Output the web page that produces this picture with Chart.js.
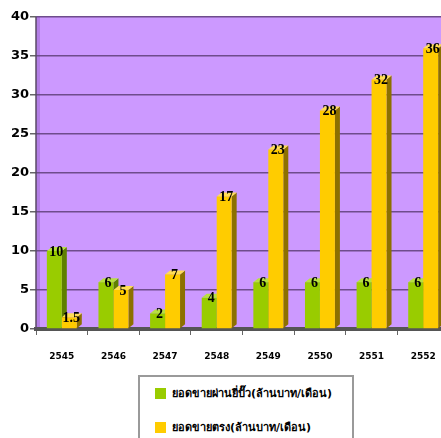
<!DOCTYPE html>
<html>
<head>
<meta charset="utf-8">
<script src="https://cdn.jsdelivr.net/npm/chart.js@4.4.1/dist/chart.umd.min.js"></script>
<style>
  html, body { margin: 0; padding: 0; background: #fff; overflow: hidden; }
  #wrap { position: relative; width: 441px; height: 438px; overflow: hidden; }
  #chart { position: absolute; left: 0; top: 0; }
  #legend {
    position: absolute; left: 138px; top: 375px; width: 216px; height: 80px;
    border: 2px solid #9a9a9a; box-sizing: border-box; background: #fff;
    font-family: Tahoma, "DejaVu Sans", sans-serif; font-weight: bold; font-size: 11px; color: #000;
  }
  .item { position: absolute; left: 15px; white-space: nowrap; line-height: 12px; }
  .sw { display: inline-block; width: 11px; height: 11px; vertical-align: -2px; margin-right: 6px; }
</style>
</head>
<body>
<div id="wrap">
  <canvas id="chart" width="452" height="365"></canvas>
  <div id="legend"></div>
</div>
<script>
(function () {
  'use strict';

  var years = ['2545', '2546', '2547', '2548', '2549', '2550', '2551', '2552'];
  var agentSales = [10, 6, 2, 4, 6, 6, 6, 6];
  var directSales = [1.5, 5, 7, 17, 23, 28, 32, 36];
  var seriesNames = ['ยอดขายผ่านยี่ปั๊ว(ล้านบาท/เดือน)', 'ยอดขายตรง(ล้านบาท/เดือน)'];

  var front = ['#99cc00', '#ffcc00'];
  var side = ['#5f8000', '#8c7000'];
  var top = ['#b8e040', '#ffdd55'];
  var depthX = 5, depthY = 4;

  // purple back wall
  var wall = {
    id: 'wall',
    beforeDraw: function (chart) {
      var a = chart.chartArea, c = chart.ctx;
      c.save();
      c.fillStyle = '#cc99ff';
      c.fillRect(a.left, a.top, a.right - a.left, a.bottom - a.top);
      c.fillStyle = '#b37ee6';
      c.fillRect(a.left, a.top, 4, a.bottom - a.top);
      c.restore();
    },
    afterDraw: function (chart) {
      var a = chart.chartArea, c = chart.ctx;
      c.save();
      c.strokeStyle = '#5a4a66';
      c.lineWidth = 1.5;
      c.beginPath();
      c.moveTo(a.left, a.top);
      c.lineTo(a.left, a.bottom);
      c.stroke();
      c.restore();
    }
  };

  // side and top faces of the bars, drawn before the fronts
  var depth = {
    id: 'depth',
    beforeDatasetsDraw: function (chart) {
      var c = chart.ctx;
      c.save();
      chart.data.datasets.forEach(function (ds, di) {
        chart.getDatasetMeta(di).data.forEach(function (bar) {
          var l = bar.x - bar.width / 2, r = bar.x + bar.width / 2;
          var t = bar.y, b = bar.base;
          c.fillStyle = side[di];
          c.beginPath();
          c.moveTo(r, b);
          c.lineTo(r, t);
          c.lineTo(r + depthX, t - depthY);
          c.lineTo(r + depthX, b - depthY);
          c.closePath();
          c.fill();
          c.fillStyle = top[di];
          c.beginPath();
          c.moveTo(l, t);
          c.lineTo(l + depthX, t - depthY);
          c.lineTo(r + depthX, t - depthY);
          c.lineTo(r, t);
          c.closePath();
          c.fill();
        });
      });
      c.restore();
    },
    afterDatasetsDraw: function (chart) {
      var c = chart.ctx;
      c.save();
      c.font = 'bold 14px "Liberation Serif", "Times New Roman", serif';
      c.fillStyle = '#000';
      c.textAlign = 'center';
      c.textBaseline = 'middle';
      chart.data.datasets.forEach(function (ds, di) {
        chart.getDatasetMeta(di).data.forEach(function (bar, i) {
          c.fillText(String(ds.data[i]), bar.x + 2, bar.y + 1);
        });
      });
      c.restore();
    }
  };

  var ctx = document.getElementById('chart').getContext('2d');

  new Chart(ctx, {
    type: 'bar',
    data: {
      labels: years,
      datasets: [
        { label: seriesNames[0], data: agentSales, backgroundColor: front[0] },
        { label: seriesNames[1], data: directSales, backgroundColor: front[1] }
      ]
    },
    options: {
      responsive: false,
      animation: false,
      layout: { padding: { top: 17, right: 3, left: 0, bottom: 0 } },
      datasets: { bar: { categoryPercentage: 0.58, barPercentage: 1.0 } },
      plugins: {
        legend: { display: false },
        tooltip: { enabled: false }
      },
      scales: {
        x: {
          afterFit: function (s) { s.height = 36; },
          grid: { drawOnChartArea: false, tickLength: 6, tickColor: '#666', offset: true },
          border: { color: '#555', width: 4 },
          ticks: {
            color: '#000', padding: 16,
            font: { family: 'Tahoma, "DejaVu Sans", sans-serif', size: 9, weight: 'bold' }
          }
        },
        y: {
          min: 0, max: 40,
          afterFit: function (s) { s.width = 36; },
          grid: { color: '#6e4c8c', lineWidth: 1.5, tickLength: 6, tickColor: '#666' },
          border: { display: false },
          ticks: {
            stepSize: 5, color: '#000', padding: 1,
            font: { family: 'Tahoma, "DejaVu Sans", sans-serif', size: 13, weight: 'bold' }
          }
        }
      }
    },
    plugins: [wall, depth]
  });

  var legend = document.getElementById('legend');
  seriesNames.forEach(function (name, i) {
    var item = document.createElement('div');
    item.className = 'item';
    item.style.top = (i === 0 ? 11 : 45) + 'px';
    var sw = document.createElement('span');
    sw.className = 'sw';
    sw.style.background = front[i];
    item.appendChild(sw);
    item.appendChild(document.createTextNode(name));
    legend.appendChild(item);
  });
}());
</script>
</body>
</html>
